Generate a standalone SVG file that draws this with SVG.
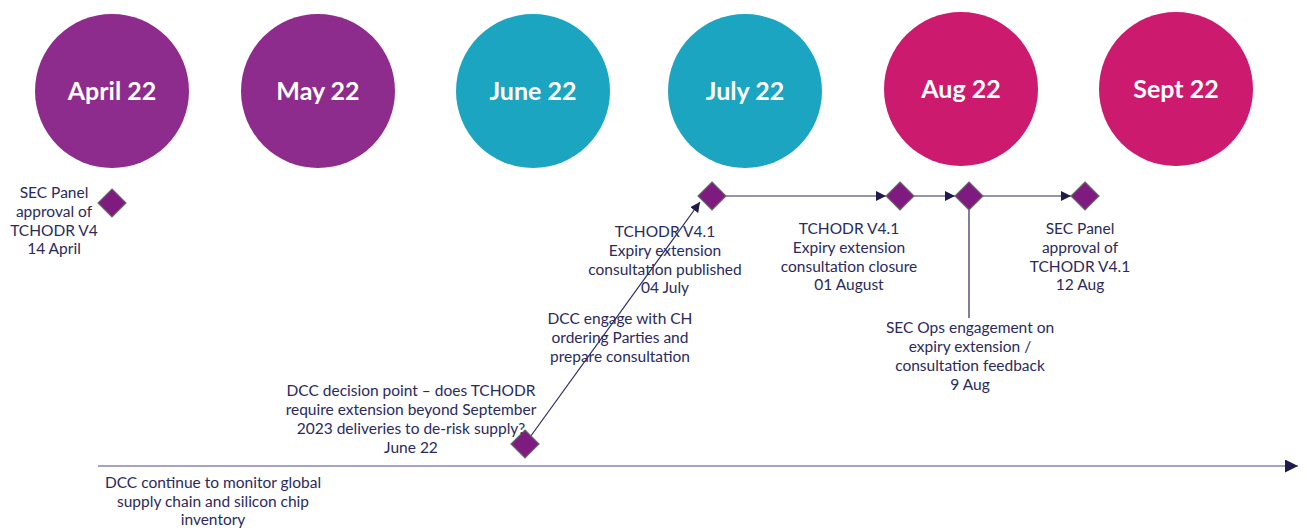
<svg xmlns="http://www.w3.org/2000/svg" width="1307" height="528" viewBox="0 0 1307 528">
  <defs>
    <marker id="arrow" viewBox="0 0 10 10" refX="10" refY="5" markerWidth="10" markerHeight="10" markerUnits="userSpaceOnUse" orient="auto">
      <path d="M0,0 L10,5 L0,10 z" fill="#1f1b4d"/>
    </marker>
    <marker id="arrowBig" viewBox="0 0 10 10" refX="10" refY="5" markerWidth="13" markerHeight="13" markerUnits="userSpaceOnUse" orient="auto">
      <path d="M0,0 L10,5 L0,10 z" fill="#1f1b4d"/>
    </marker>
  </defs>
  <style>
    .month { font-family: Lato, "Liberation Sans", sans-serif; font-size: 25px; font-weight: bold; fill: #ffffff; text-anchor: middle; }
    .label { font-family: Lato, "Liberation Sans", sans-serif; font-size: 15.5px; fill: #2b2a5c; text-anchor: middle; }
    .purple { fill: #8e2c8e; }
    .teal { fill: #1ba5c1; }
    .pink { fill: #cc1a6e; }
    .ms { fill: #7e1a80; stroke: #6a6a6a; stroke-width: 1.2; }
    .line { stroke: #2b2a5c; stroke-width: 1.2; fill: none; }
    .axis { stroke: #8886ad; stroke-width: 1.6; fill: none; }
  </style>
  <rect width="1307" height="528" fill="#ffffff"/>

  <!-- Month headers -->
  <g id="m-apr"><circle class="purple" cx="112" cy="91" r="77"/><text class="month" x="112" y="100">April 22</text></g>
  <g id="m-may"><circle class="purple" cx="318" cy="91" r="77"/><text class="month" x="318" y="100">May 22</text></g>
  <g id="m-jun"><circle class="teal" cx="533" cy="91" r="77"/><text class="month" x="533" y="100">June 22</text></g>
  <g id="m-jul"><circle class="teal" cx="745" cy="91" r="77"/><text class="month" x="745" y="100">July 22</text></g>
  <g id="m-aug"><circle class="pink" cx="961" cy="89" r="77"/><text class="month" x="961" y="98">Aug 22</text></g>
  <g id="m-sep"><circle class="pink" cx="1176" cy="89" r="77"/><text class="month" x="1176" y="98">Sept 22</text></g>

  <!-- Connectors -->
  <g id="connectors">
    <line class="axis" x1="98" y1="466" x2="1298" y2="466" marker-end="url(#arrowBig)"/>
    <line class="line" x1="520" y1="451" x2="700" y2="202" marker-end="url(#arrow)"/>
    <line class="line" x1="726" y1="196" x2="886" y2="196" marker-end="url(#arrow)"/>
    <line class="line" x1="914" y1="196" x2="955" y2="196" marker-end="url(#arrow)"/>
    <line class="line" x1="983" y1="196" x2="1071" y2="196" marker-end="url(#arrow)"/>
    <line class="line" x1="969" y1="210" x2="969" y2="318"/>
  </g>

  <!-- Milestones -->
  <g id="ms-apr">
    <path class="ms" d="M112,189 L126,203 L112,217 L98,203 z"/>
    <text class="label" x="54" y="198">SEC Panel</text>
    <text class="label" x="54" y="217">approval of</text>
    <text class="label" x="54" y="236">TCHODR V4</text>
    <text class="label" x="54" y="254">14 April</text>
  </g>
  <g id="ms-jun">
    <path class="ms" d="M525,430 L539,444 L525,458 L511,444 z"/>
    <text class="label" x="411" y="396">DCC decision point – does TCHODR</text>
    <text class="label" x="411" y="415">require extension beyond September</text>
    <text class="label" x="411" y="434">2023 deliveries to de-risk supply?</text>
    <text class="label" x="411" y="453">June 22</text>
  </g>
  <g id="note-engage">
    <text class="label" x="620" y="324">DCC engage with CH</text>
    <text class="label" x="620" y="343">ordering Parties and</text>
    <text class="label" x="620" y="362">prepare consultation</text>
  </g>
  <g id="ms-jul">
    <path class="ms" d="M712,182 L726,196 L712,210 L698,196 z"/>
    <text class="label" x="665" y="237">TCHODR V4.1</text>
    <text class="label" x="665" y="256">Expiry extension</text>
    <text class="label" x="665" y="275">consultation published</text>
    <text class="label" x="665" y="293">04 July</text>
  </g>
  <g id="ms-aug1">
    <path class="ms" d="M900,182 L914,196 L900,210 L886,196 z"/>
    <text class="label" x="849" y="234">TCHODR V4.1</text>
    <text class="label" x="849" y="253">Expiry extension</text>
    <text class="label" x="849" y="272">consultation closure</text>
    <text class="label" x="849" y="290">01 August</text>
  </g>
  <g id="ms-aug9">
    <path class="ms" d="M969,182 L983,196 L969,210 L955,196 z"/>
    <text class="label" x="970" y="333">SEC Ops engagement on</text>
    <text class="label" x="970" y="352">expiry extension /</text>
    <text class="label" x="970" y="371">consultation feedback</text>
    <text class="label" x="970" y="390">9 Aug</text>
  </g>
  <g id="ms-aug12">
    <path class="ms" d="M1085,182 L1099,196 L1085,210 L1071,196 z"/>
    <text class="label" x="1080" y="234">SEC Panel</text>
    <text class="label" x="1080" y="253">approval of</text>
    <text class="label" x="1080" y="272">TCHODR V4.1</text>
    <text class="label" x="1080" y="290">12 Aug</text>
  </g>
  <g id="note-monitor">
    <text class="label" x="213" y="488">DCC continue to monitor global</text>
    <text class="label" x="213" y="507">supply chain and silicon chip</text>
    <text class="label" x="213" y="525">inventory</text>
  </g>
</svg>
